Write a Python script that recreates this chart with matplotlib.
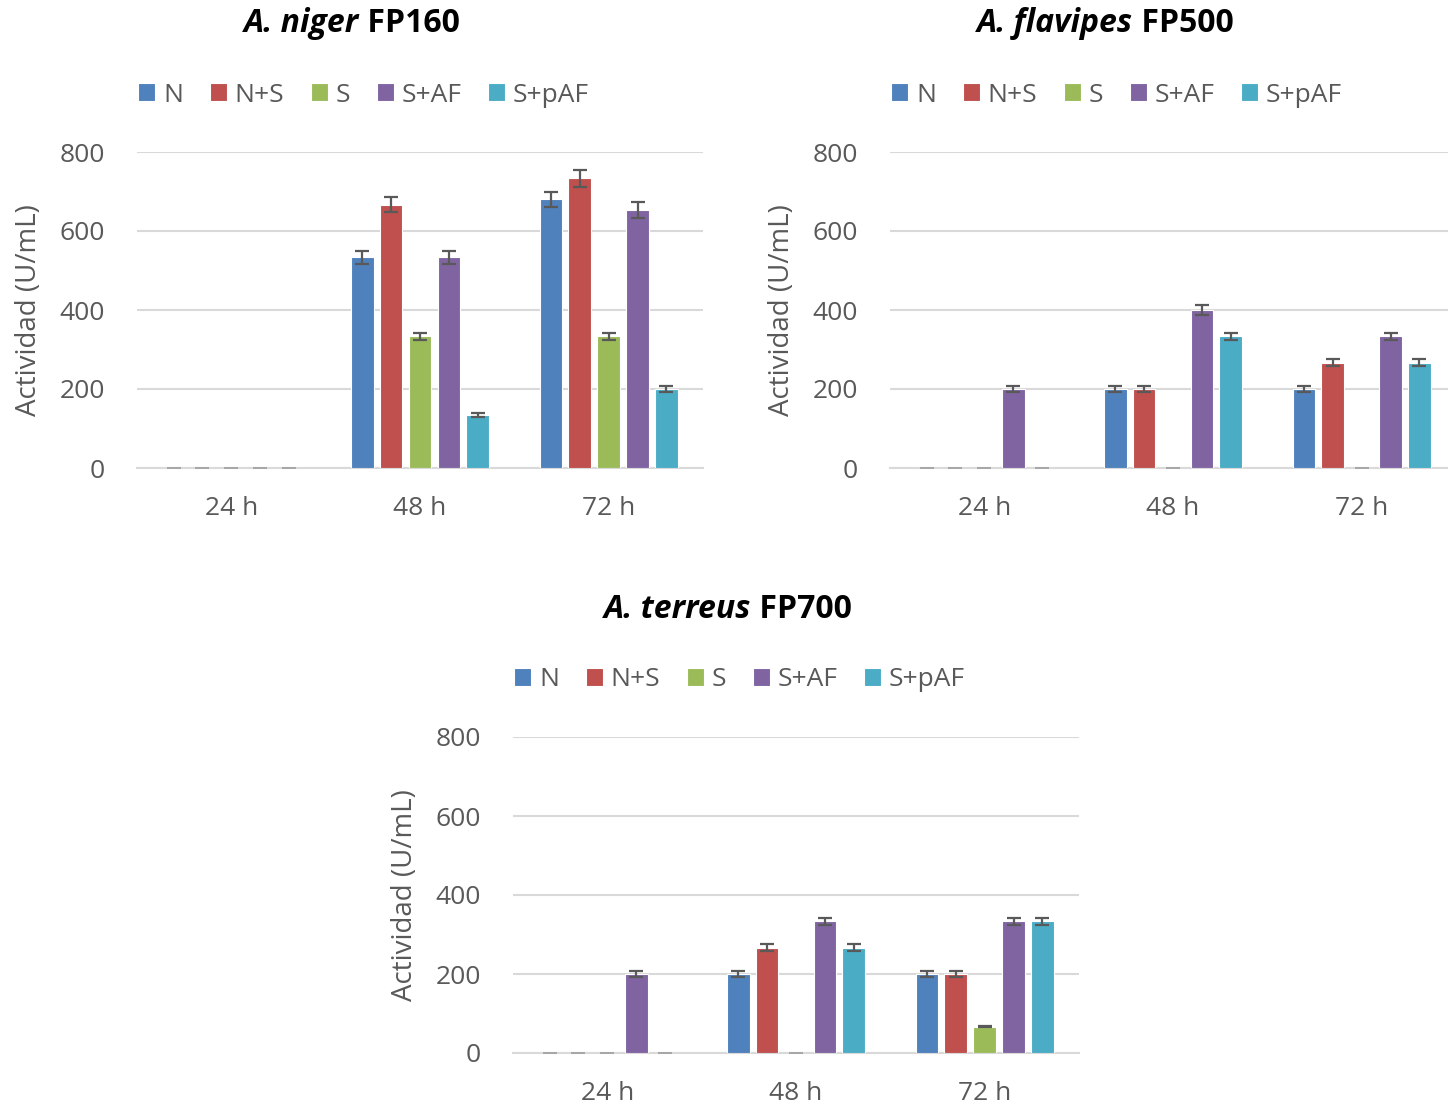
import numpy as np
import matplotlib
matplotlib.use('Agg')
import matplotlib.pyplot as plt

plt.rcParams['font.family'] = ['Open Sans', 'DejaVu Sans']

times = ['24 h', '48 h', '72 h']
series = ['N', 'N+S', 'S', 'S+AF', 'S+pAF']
colors = ['#4F81BD', '#C0504D', '#9BBB59', '#8064A2', '#4BACC6']

# valores por serie (24 h, 48 h, 72 h)
niger = {
    'N': [0, 533, 680], 'N+S': [0, 667, 733], 'S': [0, 333, 333],
    'S+AF': [0, 533, 653], 'S+pAF': [0, 133, 200],
}
niger_err = {
    'N': [0, 17, 20], 'N+S': [0, 20, 22], 'S': [0, 10, 10],
    'S+AF': [0, 17, 20], 'S+pAF': [0, 5, 7],
}
flavipes = {
    'N': [0, 200, 200], 'N+S': [0, 200, 267], 'S': [0, 0, 0],
    'S+AF': [200, 400, 333], 'S+pAF': [0, 333, 267],
}
flavipes_err = {
    'N': [0, 7, 7], 'N+S': [0, 7, 8], 'S': [0, 0, 0],
    'S+AF': [7, 12, 10], 'S+pAF': [0, 10, 8],
}
terreus = {
    'N': [0, 200, 200], 'N+S': [0, 267, 200], 'S': [0, 0, 67],
    'S+AF': [200, 333, 333], 'S+pAF': [0, 267, 333],
}
terreus_err = {
    'N': [0, 7, 7], 'N+S': [0, 8, 7], 'S': [0, 0, 2],
    'S+AF': [7, 10, 10], 'S+pAF': [0, 8, 10],
}

W, H = 1448, 1110
fig = plt.figure(figsize=(W / 100, H / 100), dpi=100)
gray = '#595959'


def panel(left, top, data, err, italic, bold):
    # left/top en pixeles del area de trazado
    ax = fig.add_axes([left / W, 1 - (top + 316) / H, 566 / W, 316 / H])
    x = np.arange(len(times))
    step = 0.153
    for i, s in enumerate(series):
        xs = x + (i - 2) * step
        v = np.array(data[s])
        e = np.array(err[s])
        ax.bar(xs, v, width=0.12, color=colors[i], edgecolor='white',
               linewidth=0.8, label=s, zorder=3)
        nz = v > 0
        ax.errorbar(xs[nz], v[nz], yerr=e[nz], fmt='none', ecolor='#595959',
                    elinewidth=1.6, capsize=5, capthick=1.6, zorder=4)
        # los ceros se ven como una raya gris clara
        ax.errorbar(xs[~nz], v[~nz], yerr=e[~nz], fmt='none', ecolor='#a6a6a6',
                    elinewidth=1.2, capsize=5, capthick=1.2, zorder=4)
    ax.set_xlim(-0.5, 2.5)
    ax.set_ylim(0, 800)
    ax.set_yticks(range(0, 801, 200))
    ax.set_xticks(x)
    ax.set_xticklabels(times)
    ax.grid(axis='y', color='#d9d9d9', linewidth=1.5, zorder=0)
    for sp in ['top', 'right', 'left']:
        ax.spines[sp].set_visible(False)
    ax.spines['bottom'].set_color('#d9d9d9')
    ax.spines['bottom'].set_linewidth(1.5)
    ax.tick_params(length=0, labelsize=19, colors=gray)
    ax.tick_params(axis='x', pad=20)
    ax.tick_params(axis='y', pad=23)
    ax.set_ylabel('Actividad (U/mL)', fontsize=20, color=gray, labelpad=12)
    leg = ax.legend(loc='center left', bbox_to_anchor=((left - 12) / W, 1 - (top - 57) / H),
                    bbox_transform=fig.transFigure, ncol=5, frameon=False,
                    fontsize=19, handlelength=0.65, handleheight=0.65,
                    handletextpad=0.3, columnspacing=1.0, borderpad=0)
    for t in leg.get_texts():
        t.set_color(gray)
    # titulo: parte en cursiva + parte normal, ambas en negrita
    cx = (left + 215) / W
    cy = 1 - (top - 128) / H
    t1 = fig.text(cx, cy, italic, style='italic', weight='bold', fontsize=23,
                  ha='right', va='center')
    t2 = fig.text(cx, cy, ' ' + bold, weight='bold', fontsize=23,
                  ha='left', va='center')
    fig.canvas.draw()
    r = fig.canvas.get_renderer()
    w1 = t1.get_window_extent(r).width
    w2 = t2.get_window_extent(r).width
    shift = (w1 - w2) / 2 / W
    t1.set_x(cx + shift)
    t2.set_x(cx + shift)
    return ax


panel(137, 152, niger, niger_err, 'A. niger', 'FP160')
panel(890, 152, flavipes, flavipes_err, 'A. flavipes', 'FP500')
panel(513, 737, terreus, terreus_err, 'A. terreus', 'FP700')

fig.savefig('out.png', dpi=100)
